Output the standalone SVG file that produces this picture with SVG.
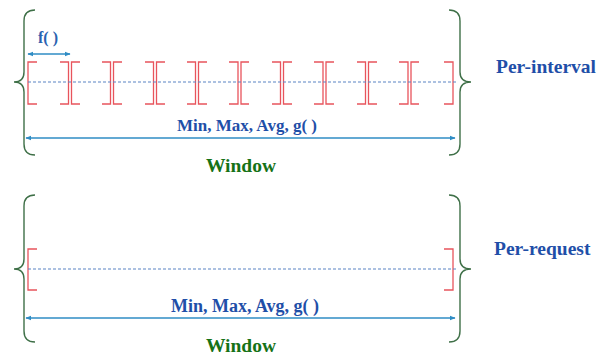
<svg xmlns="http://www.w3.org/2000/svg" width="601" height="356" viewBox="0 0 601 356">
<style>
.brace{fill:none;stroke:#3f7048;stroke-width:1.4}
.brk{fill:none;stroke:#e8545c;stroke-width:1.3}
.dash{stroke:#5a84c4;stroke-width:1.1;stroke-dasharray:3,2}
.arr{stroke:#2f8cc4;stroke-width:1.4;marker-start:url(#ah);marker-end:url(#ah)}
text{font-family:"Liberation Serif","Times New Roman",serif;font-weight:bold}
.blue{fill:#1f4fa8}
.green{fill:#167216}
</style>
<defs>
<marker id="ah" viewBox="0 0 10 10" refX="9" refY="5" markerWidth="6" markerHeight="6" orient="auto-start-reverse" markerUnits="userSpaceOnUse">
<path d="M0,1 L10,5 L0,9 Z" fill="#2f8cc4"/>
</marker>
</defs>

<g id="per-interval">
<g id="braces-top">
<path class="brace" d="M35,10 Q24,10 24,21 L24,72 Q24,82 14,82 Q24,82 24,92 L24,144 Q24,155 35,155"/>
<path class="brace" d="M449,10 Q460,10 460,21 L460,72 Q460,82 471,82 Q460,82 460,92 L460,144 Q460,155 449,155"/>
</g>
<g id="intervals">
<path class="brk" d="M37,62 H28 V104 H37"/>
<path class="brk" d="M60,62 H68.5 V104 H60 M80,62 H71.5 V104 H80"/>
<path class="brk" d="M102,62 H110.5 V104 H102 M122,62 H113.5 V104 H122"/>
<path class="brk" d="M145,62 H153.5 V104 H145 M165,62 H156.5 V104 H165"/>
<path class="brk" d="M187,62 H195.5 V104 H187 M207,62 H198.5 V104 H207"/>
<path class="brk" d="M229,62 H238 V104 H229 M249,62 H241 V104 H249"/>
<path class="brk" d="M272,62 H280.5 V104 H272 M292,62 H283.5 V104 H292"/>
<path class="brk" d="M314,62 H323 V104 H314 M334,62 H326 V104 H334"/>
<path class="brk" d="M357,62 H365.5 V104 H357 M377,62 H368.5 V104 H377"/>
<path class="brk" d="M399,62 H408 V104 H399 M419,62 H411 V104 H419"/>
<path class="brk" d="M444,62 H453 V104 H444"/>
</g>
<text x="48" y="43" font-size="16" text-anchor="middle" style="fill:#2a62b0">f( )</text>
<text x="247" y="131" font-size="17" text-anchor="middle" class="blue">Min, Max, Avg, g( )</text>
<text x="241" y="172" font-size="19.5" text-anchor="middle" class="green">Window</text>
<text x="496" y="73" font-size="19.5" class="blue">Per-interval</text>
</g>

<g id="per-request">
<g id="braces-bottom">
<path class="brace" d="M35,195 Q24,195 24,206 L24,259 Q24,269 14,269 Q24,269 24,279 L24,331 Q24,342 35,342"/>
<path class="brace" d="M449,195 Q460,195 460,206 L460,259 Q460,269 471,269 Q460,269 460,279 L460,331 Q460,342 449,342"/>
</g>
<g id="request">
<path class="brk" d="M37,249 H28 V290 H37"/>
<path class="brk" d="M444,249 H453 V290 H444"/>
</g>
<text x="245" y="312" font-size="18" text-anchor="middle" class="blue">Min, Max, Avg, g( )</text>
<text x="241" y="352" font-size="19.5" text-anchor="middle" class="green">Window</text>
<text x="494" y="255" font-size="19.5" class="blue">Per-request</text>
</g>

<g id="connectors">
<line class="dash" x1="28" y1="82" x2="457" y2="82"/>
<line class="arr" x1="28" y1="54" x2="70" y2="54"/>
<line class="arr" x1="26" y1="138" x2="455" y2="138"/>
<line class="dash" x1="28" y1="269" x2="457" y2="269"/>
<line class="arr" x1="26" y1="318" x2="455" y2="318"/>
</g>
</svg>
